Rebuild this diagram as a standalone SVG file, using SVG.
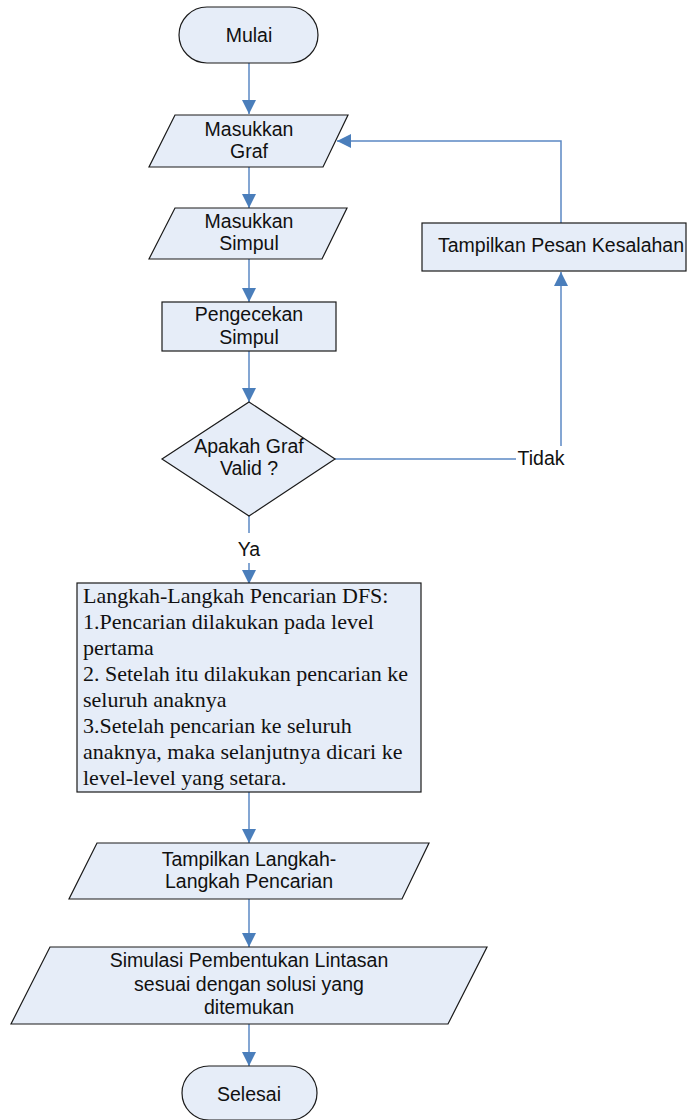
<svg xmlns="http://www.w3.org/2000/svg" width="688" height="1120" viewBox="0 0 688 1120">
<defs>
<marker id="ah" markerUnits="userSpaceOnUse" markerWidth="14" markerHeight="14" viewBox="0 0 12 12" refX="12" refY="6" orient="auto">
<path d="M0,0 L12,6 L0,12 Z" fill="#4a7ebb"/>
</marker>
<style>
.n{fill:#e6edf8;stroke:#1a1a1a;stroke-width:1.2}
.t{font-family:"Liberation Sans",Arial,sans-serif;font-size:19.5px;fill:#111;text-anchor:middle}
.s{font-family:"Liberation Serif","Times New Roman",serif;font-size:22px;fill:#111}
.c{fill:none;stroke:#5b88c4;stroke-width:1.5}
.a{marker-end:url(#ah)}
</style>
</defs>
<rect width="688" height="1120" fill="#fff"/>
<g id="connectors">
<line class="c a" x1="249" y1="63" x2="249" y2="114"/>
<line class="c a" x1="249" y1="167" x2="249" y2="208"/>
<line class="c a" x1="249" y1="259" x2="249" y2="302"/>
<line class="c a" x1="249" y1="351" x2="249" y2="402"/>
<line class="c" x1="249" y1="516" x2="249" y2="533"/>
<line class="c a" x1="249" y1="563" x2="249" y2="584"/>
<line class="c" x1="335" y1="459" x2="516" y2="459"/>
<line class="c a" x1="561" y1="446" x2="561" y2="272"/>
<polyline class="c a" points="561,223 561,141 337,141"/>
<line class="c a" x1="249" y1="792" x2="249" y2="843"/>
<line class="c a" x1="249" y1="899" x2="249" y2="947"/>
<line class="c a" x1="249" y1="1024" x2="249" y2="1066"/>
<text class="t" x="249" y="556">Ya</text>
<text class="t" x="541" y="465">Tidak</text>
</g>
<g id="mulai">
<rect class="n" x="179" y="7" width="139" height="56" rx="28"/>
<text class="t" x="249" y="42">Mulai</text>
</g>
<g id="masukkan-graf">
<polygon class="n" points="175,115 348,115 323,167 149,167"/>
<text class="t" x="249" y="136">Masukkan</text>
<text class="t" x="249" y="158">Graf</text>
</g>
<g id="masukkan-simpul">
<polygon class="n" points="175,208 347,208 322,259 149,259"/>
<text class="t" x="249" y="228">Masukkan</text>
<text class="t" x="249" y="250">Simpul</text>
</g>
<g id="pengecekan">
<rect class="n" x="162" y="302" width="174" height="49"/>
<text class="t" x="249" y="321">Pengecekan</text>
<text class="t" x="249" y="344">Simpul</text>
</g>
<g id="valid">
<polygon class="n" points="249,402 335,459 249,516 162,459"/>
<text class="t" x="249" y="453">Apakah Graf</text>
<text class="t" x="249" y="475">Valid ?</text>
</g>
<g id="pesan-kesalahan">
<rect class="n" x="422" y="223" width="264" height="48"/>
<text class="t" x="561" y="252">Tampilkan Pesan Kesalahan</text>
</g>
<g id="dfs">
<rect class="n" x="77" y="583" width="344" height="209"/>
<text class="s" x="83" y="603">Langkah-Langkah Pencarian DFS:</text>
<text class="s" x="83" y="629">1.Pencarian dilakukan pada level</text>
<text class="s" x="83" y="655">pertama</text>
<text class="s" x="83" y="681">2. Setelah itu dilakukan pencarian ke</text>
<text class="s" x="83" y="707">seluruh anaknya</text>
<text class="s" x="83" y="733">3.Setelah pencarian ke seluruh</text>
<text class="s" x="83" y="759">anaknya, maka selanjutnya dicari ke</text>
<text class="s" x="83" y="785">level-level yang setara.</text>
</g>
<g id="tampilkan-langkah">
<polygon class="n" points="97,843 429,843 402,899 69,899"/>
<text class="t" x="249" y="866">Tampilkan Langkah-</text>
<text class="t" x="249" y="888">Langkah Pencarian</text>
</g>
<g id="simulasi">
<polygon class="n" points="50,947 487,947 448,1024 11,1024"/>
<text class="t" x="249" y="967">Simulasi Pembentukan Lintasan</text>
<text class="t" x="249" y="991">sesuai dengan solusi yang</text>
<text class="t" x="249" y="1014">ditemukan</text>
</g>
<g id="selesai">
<rect class="n" x="182" y="1066" width="135" height="54" rx="27"/>
<text class="t" x="249" y="1101">Selesai</text>
</g>
</svg>
